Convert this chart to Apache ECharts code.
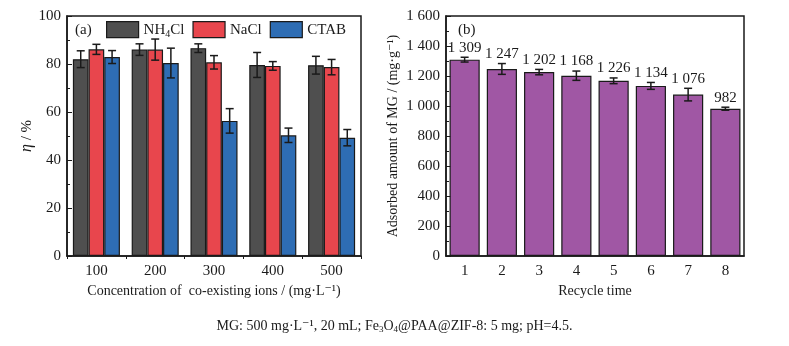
<!DOCTYPE html>
<html>
<head>
<meta charset="utf-8">
<script src="https://cdn.jsdelivr.net/npm/echarts@6/dist/echarts.min.js"></script>
<style>
  html, body { margin: 0; padding: 0; background: #fff; }
  #main { width: 789px; height: 346px; }
</style>
</head>
<body>
<div id="main"></div>
<script>
// (a) co-existing ions
var concLabels = ['100', '200', '300', '400', '500'];
var nh4clVals = [82.0, 86.0, 86.6, 79.6, 79.5];
var nh4clErr = [3.5, 2.4, 1.8, 5.2, 3.7];
var naclVals = [86.1, 86.0, 80.7, 79.2, 78.7];
var naclErr = [2.1, 4.4, 2.8, 1.8, 3.2];
var ctabVals = [82.9, 80.4, 56.3, 50.3, 49.3];
var ctabErr = [2.7, 6.2, 5.1, 3.0, 3.4];

// (b) recycle
var recycleLabels = ['1', '2', '3', '4', '5', '6', '7', '8'];
var adsorbVals = [1309, 1247, 1226, 1202, 1168, 1134, 1076, 982];
var adsorbErr = [16, 36, 18, 31, 19, 23, 42, 10];
var adsorbText = ['1 309', '1 247', '1 202', '1 168', '1 226', '1 134', '1 076', '982'];

var FONT = '"Liberation Serif", "DejaVu Serif", serif';
var INK = '#1a1a1a';

var myChart = echarts.init(document.getElementById('main'));

function thousands(v) {
  var s = String(v);
  if (s.length > 3) s = s.slice(0, s.length - 3) + ' ' + s.slice(s.length - 3);
  return s;
}

// error bars for grouped bars (3 per category, no gap, 20% category gap)
function groupErr(vals, errs, idx) {
  var data = vals.map(function (v, i) { return [i, v, errs[i]]; });
  return {
    type: 'custom',
    xAxisIndex: 0, yAxisIndex: 0,
    z: 10,
    silent: true,
    renderItem: function (params, api) {
      var c = api.coord([api.value(0), api.value(1)]);
      var catW = api.size([1, 0])[0];
      var groupW = catW * 0.8;
      var bw = groupW / 3;
      var x = c[0] - groupW / 2 + bw * (idx + 0.5);
      var hi = api.coord([api.value(0), api.value(1) + api.value(2)])[1];
      var lo = api.coord([api.value(0), api.value(1) - api.value(2)])[1];
      var cap = 4;
      var st = { stroke: INK, lineWidth: 1.5 };
      return { type: 'group', children: [
        { type: 'line', shape: { x1: x, y1: hi, x2: x, y2: lo }, style: st },
        { type: 'line', shape: { x1: x - cap, y1: hi, x2: x + cap, y2: hi }, style: st },
        { type: 'line', shape: { x1: x - cap, y1: lo, x2: x + cap, y2: lo }, style: st }
      ] };
    },
    data: data
  };
}

var barBorder = { borderColor: INK, borderWidth: 1.2 };

var option = {
  backgroundColor: '#fff',
  animation: false,
  textStyle: { fontFamily: FONT, color: INK },
  grid: [
    { left: 67, top: 16, width: 294, height: 240, show: true, borderColor: INK, borderWidth: 1.5, backgroundColor: 'transparent' },
    { left: 446, top: 16, width: 298, height: 240, show: true, borderColor: INK, borderWidth: 1.5, backgroundColor: 'transparent' }
  ],
  legend: {
    left: 106, top: 21, padding: 0,
    icon: 'rect',
    itemWidth: 32, itemHeight: 16, itemGap: 8,
    data: ['NH4Cl', 'NaCl', 'CTAB'],
    formatter: function (name) {
      if (name === 'NH4Cl') return 'NH{s|4}Cl';
      return name;
    },
    textStyle: {
      fontFamily: FONT, fontSize: 15, color: INK,
      rich: { s: { fontFamily: FONT, fontSize: 10, color: INK, padding: [9, 0, 0, 0] } }
    },
    itemStyle: { borderColor: INK, borderWidth: 1.2 }
  },
  xAxis: [
    {
      gridIndex: 0, type: 'category', data: concLabels,
      name: 'Concentration of  co-existing ions / (mg·L⁻¹)',
      nameLocation: 'middle', nameGap: 28,
      nameTextStyle: { fontFamily: FONT, fontSize: 14, color: INK },
      axisLine: { lineStyle: { color: INK, width: 1.5 } },
      axisTick: { show: true, inside: false, length: 3, lineStyle: { color: INK } },
      axisLabel: { fontFamily: FONT, fontSize: 15, color: INK, margin: 8 }
    },
    {
      gridIndex: 1, type: 'category', data: recycleLabels,
      name: 'Recycle time',
      nameLocation: 'middle', nameGap: 28,
      nameTextStyle: { fontFamily: FONT, fontSize: 14, color: INK },
      axisLine: { lineStyle: { color: INK, width: 1.5 } },
      axisTick: { show: true, inside: true, alignWithLabel: true, length: 5, lineStyle: { color: INK } },
      axisLabel: { fontFamily: FONT, fontSize: 15, color: INK, margin: 8 }
    }
  ],
  yAxis: [
    {
      gridIndex: 0, type: 'value', min: 0, max: 100, interval: 20,
      name: '{i|η} / %', nameLocation: 'middle', nameGap: 30,
      nameTextStyle: { fontFamily: FONT, fontSize: 15, color: INK, rich: { i: { fontFamily: FONT, fontStyle: 'italic', fontSize: 16, color: INK } } },
      axisLine: { show: true, lineStyle: { color: INK, width: 1.5 } },
      axisTick: { show: true, inside: true, length: 5, lineStyle: { color: INK } },
      minorTick: { show: true, splitNumber: 2, length: 3, lineStyle: { color: INK } },
      splitLine: { show: false },
      axisLabel: { fontFamily: FONT, fontSize: 15, color: INK, margin: 6 }
    },
    {
      gridIndex: 1, type: 'value', min: 0, max: 1600, interval: 200,
      name: 'Adsorbed amount of MG / (mg·g⁻¹)', nameLocation: 'middle', nameGap: 46,
      nameTextStyle: { fontFamily: FONT, fontSize: 14, color: INK },
      axisLine: { show: true, lineStyle: { color: INK, width: 1.5 } },
      axisTick: { show: true, inside: true, length: 5, lineStyle: { color: INK } },
      minorTick: { show: true, splitNumber: 2, length: 3, lineStyle: { color: INK } },
      splitLine: { show: false },
      axisLabel: { fontFamily: FONT, fontSize: 15, color: INK, margin: 6, formatter: thousands }
    }
  ],
  graphic: [
    { type: 'text', left: 75, top: 23, style: { text: '(a)', font: '15px ' + FONT, fill: INK } },
    { type: 'text', left: 458, top: 23, style: { text: '(b)', font: '15px ' + FONT, fill: INK } },
    { type: 'text', left: 'center', top: 319, style: {
      text: 'MG: 500 mg·L⁻¹, 20 mL; Fe{s|3}O{s|4}@PAA@ZIF-8: 5 mg; pH=4.5.',
      font: '14px ' + FONT, fill: INK,
      rich: { s: { fontFamily: FONT, fontSize: 9, fill: INK, padding: [8, 0, 0, 0] } }
    } }
  ],
  series: [
    { name: 'NH4Cl', type: 'bar', xAxisIndex: 0, yAxisIndex: 0, data: nh4clVals,
      barGap: '0%', barCategoryGap: '20%', itemStyle: Object.assign({ color: '#4f4f4f' }, barBorder) },
    { name: 'NaCl', type: 'bar', xAxisIndex: 0, yAxisIndex: 0, data: naclVals,
      barGap: '0%', barCategoryGap: '20%', itemStyle: Object.assign({ color: '#e8464d' }, barBorder) },
    { name: 'CTAB', type: 'bar', xAxisIndex: 0, yAxisIndex: 0, data: ctabVals,
      barGap: '0%', barCategoryGap: '20%', itemStyle: Object.assign({ color: '#2e6db4' }, barBorder) },
    groupErr(nh4clVals, nh4clErr, 0),
    groupErr(naclVals, naclErr, 1),
    groupErr(ctabVals, ctabErr, 2),
    { name: 'recycle', type: 'bar', xAxisIndex: 1, yAxisIndex: 1, data: adsorbVals,
      barCategoryGap: '19%', itemStyle: Object.assign({ color: '#a057a4' }, barBorder) },
    {
      type: 'custom', xAxisIndex: 1, yAxisIndex: 1, z: 10, silent: true,
      data: adsorbVals.map(function (v, i) { return [i, v, adsorbErr[i]]; }),
      renderItem: function (params, api) {
        var i = api.value(0);
        var x = api.coord([i, api.value(1)])[0];
        var hi = api.coord([i, api.value(1) + api.value(2)])[1];
        var lo = api.coord([i, api.value(1) - api.value(2)])[1];
        var cap = 4;
        var st = { stroke: INK, lineWidth: 1.5 };
        return { type: 'group', children: [
          { type: 'line', shape: { x1: x, y1: hi, x2: x, y2: lo }, style: st },
          { type: 'line', shape: { x1: x - cap, y1: hi, x2: x + cap, y2: hi }, style: st },
          { type: 'line', shape: { x1: x - cap, y1: lo, x2: x + cap, y2: lo }, style: st },
          { type: 'text', x: x, y: hi - 2, style: {
            text: adsorbText[params.dataIndex], font: '15px ' + FONT, fill: INK,
            align: 'center', verticalAlign: 'bottom' } }
        ] };
      }
    }
  ]
};

myChart.setOption(option);
window.addEventListener('resize', function () {
  myChart.resize();
});
</script>
</body>
</html>
